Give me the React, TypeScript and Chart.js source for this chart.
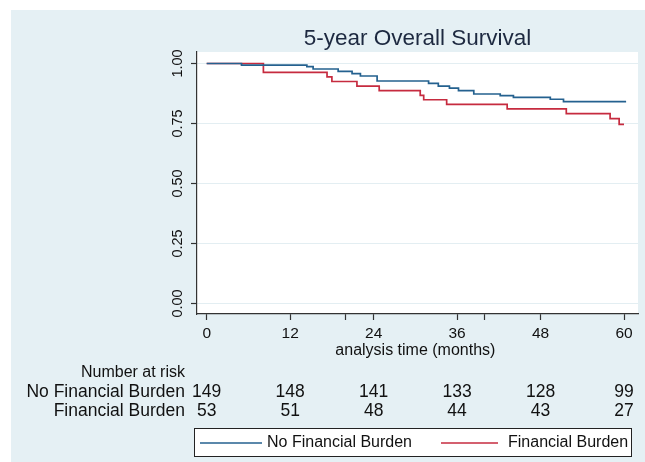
import React, { useEffect, useRef } from "react";
import { Chart, registerables } from "chart.js";

Chart.register(...registerables);

const titleText = "5-year Overall Survival";
const xAxisTitle = "analysis time (months)";
const riskHeader = "Number at risk";
const seriesNames = ["No Financial Burden", "Financial Burden"];
const seriesColors = ["#24618f", "#c62b3f"];

const xTickValues = [0, 12, 20, 24, 36, 40, 48, 60];
const xLabeledTicks = [0, 12, 24, 36, 48, 60];
const yTickValues = [0, 0.25, 0.5, 0.75, 1];

const noBurdenTimes = [0, 5.0, 14.4, 15.3, 18.9, 20.9, 22.1, 24.5, 31.9, 33.3, 34.9, 36.2, 38.4, 42.2, 44.1, 49.4, 51.3, 60.3];
const noBurdenSurv = [1, 0.993, 0.987, 0.977, 0.967, 0.958, 0.948, 0.927, 0.917, 0.906, 0.897, 0.887, 0.873, 0.866, 0.859, 0.851, 0.841, 0.841];
const burdenTimes = [0, 8.15, 17.3, 18.0, 21.6, 24.8, 30.7, 31.2, 34.5, 43.2, 51.7, 58.0, 59.3, 60.0];
const burdenSurv = [1, 0.963, 0.944, 0.925, 0.906, 0.887, 0.867, 0.849, 0.83, 0.811, 0.791, 0.77, 0.746, 0.746];

const riskTimes = [0, 12, 24, 36, 48, 60];
const noBurdenRisk = [149, 148, 141, 133, 128, 99];
const burdenRisk = [53, 51, 48, 44, 43, 27];

const FONT = "'Liberation Sans', Arial, Helvetica, sans-serif";

const decorPlugin = {
  id: "stataDecor",
  beforeDraw(chart: any) {
    const { ctx, chartArea, width, height } = chart;
    ctx.save();
    ctx.fillStyle = "#ffffff";
    ctx.fillRect(0, 0, width, height);
    ctx.fillStyle = "#e5f0f4";
    ctx.fillRect(11, 10, width - 11, height - 10);
    ctx.fillStyle = "#ffffff";
    ctx.fillRect(chartArea.left, chartArea.top, chartArea.right - chartArea.left, chartArea.bottom - chartArea.top);
    ctx.restore();
  },
  afterDraw(chart: any) {
    const { ctx, chartArea } = chart;
    const xs = chart.scales.x;
    const ys = chart.scales.y;
    ctx.save();
    // title
    ctx.fillStyle = "#1d2940";
    ctx.font = `22.5px ${FONT}`;
    ctx.textAlign = "center";
    ctx.textBaseline = "middle";
    ctx.fillText(titleText, (chartArea.left + chartArea.right) / 2, 39);

    // y tick labels (rotated)
    ctx.fillStyle = "#111111";
    ctx.font = `14.5px ${FONT}`;
    for (const v of yTickValues) {
      const py = ys.getPixelForValue(v);
      ctx.save();
      ctx.translate(178, py);
      ctx.rotate(-Math.PI / 2);
      ctx.textAlign = "center";
      ctx.textBaseline = "middle";
      ctx.fillText(v.toFixed(2), 0, 0);
      ctx.restore();
    }

    // x axis title
    ctx.font = `16px ${FONT}`;
    ctx.textAlign = "center";
    ctx.textBaseline = "middle";
    ctx.fillText(xAxisTitle, xs.getPixelForValue(30), 351);

    // number at risk table
    ctx.font = `16px ${FONT}`;
    ctx.textAlign = "right";
    ctx.fillText(riskHeader, 185, 373);
    ctx.font = `17.5px ${FONT}`;
    ctx.fillText(seriesNames[0], 185, 392);
    ctx.fillText(seriesNames[1], 185, 411);
    ctx.textAlign = "center";
    riskTimes.forEach((t, i) => {
      const px = xs.getPixelForValue(t);
      ctx.fillText(String(noBurdenRisk[i]), px, 392);
      ctx.fillText(String(burdenRisk[i]), px, 411);
    });

    // legend
    ctx.fillStyle = "#ffffff";
    ctx.fillRect(194, 428, 438, 29);
    ctx.strokeStyle = "#222222";
    ctx.lineWidth = 1;
    ctx.strokeRect(194.5, 428.5, 437, 28);
    ctx.lineWidth = 1.6;
    ctx.strokeStyle = seriesColors[0];
    ctx.beginPath();
    ctx.moveTo(200, 443);
    ctx.lineTo(262, 443);
    ctx.stroke();
    ctx.strokeStyle = seriesColors[1];
    ctx.beginPath();
    ctx.moveTo(441, 443);
    ctx.lineTo(498, 443);
    ctx.stroke();
    ctx.fillStyle = "#111111";
    ctx.font = `16px ${FONT}`;
    ctx.textAlign = "left";
    ctx.textBaseline = "middle";
    ctx.fillText(seriesNames[0], 267, 443);
    ctx.fillText(seriesNames[1], 508, 443);
    ctx.restore();
  },
};

export default function App() {
  const ref = useRef<HTMLCanvasElement | null>(null);

  useEffect(() => {
    document.body.style.margin = "0";
    const canvas = ref.current;
    if (!canvas) return;
    const chart = new Chart(canvas, {
      type: "line",
      data: {
        datasets: [
          {
            label: seriesNames[0],
            data: noBurdenTimes.map((t, i) => ({ x: t, y: noBurdenSurv[i] })),
            borderColor: seriesColors[0],
            borderWidth: 1.7,
            pointRadius: 0,
            stepped: "before",
            fill: false,
          },
          {
            label: seriesNames[1],
            data: burdenTimes.map((t, i) => ({ x: t, y: burdenSurv[i] })),
            borderColor: seriesColors[1],
            borderWidth: 1.7,
            pointRadius: 0,
            stepped: "before",
            fill: false,
          },
        ],
      },
      options: {
        animation: false,
        responsive: false,
        devicePixelRatio: 1,
        events: [],
        layout: { padding: { left: 0, right: 7, top: 52, bottom: 118 } },
        plugins: {
          legend: { display: false },
          title: { display: false },
          tooltip: { enabled: false },
        },
        scales: {
          x: {
            type: "linear",
            min: -1.395,
            max: 62.01,
            afterBuildTicks: (scale: any) => {
              scale.ticks = xTickValues.map((v) => ({ value: v }));
            },
            afterFit: (scale: any) => {
              scale.height = 30;
            },
            grid: {
              display: true,
              drawOnChartArea: false,
              drawTicks: true,
              tickLength: 6,
              tickColor: "#333333",
              tickWidth: 1.2,
            },
            border: { display: true, color: "#333333", width: 1.2 },
            ticks: {
              autoSkip: false,
              maxRotation: 0,
              minRotation: 0,
              padding: 4,
              color: "#111111",
              font: { family: FONT, size: 15.5 },
              callback: (value: any) => (xLabeledTicks.includes(Number(value)) ? String(value) : ""),
            },
          },
          y: {
            type: "linear",
            min: -0.04375,
            max: 1.0479,
            afterBuildTicks: (scale: any) => {
              scale.ticks = yTickValues.map((v) => ({ value: v }));
            },
            afterFit: (scale: any) => {
              scale.width = 197;
            },
            grid: {
              display: true,
              drawOnChartArea: true,
              color: "#e3eef2",
              lineWidth: 1,
              drawTicks: true,
              tickLength: 6,
              tickColor: "#333333",
              tickWidth: 1.2,
            },
            border: { display: true, color: "#333333", width: 1.2 },
            ticks: { display: false },
          },
        },
      },
      plugins: [decorPlugin],
    } as any);
    return () => chart.destroy();
  }, []);

  return (
    <div style={{ width: 645, height: 462 }}>
      <canvas ref={ref} width={645} height={462} style={{ display: "block" }} />
    </div>
  );
}
